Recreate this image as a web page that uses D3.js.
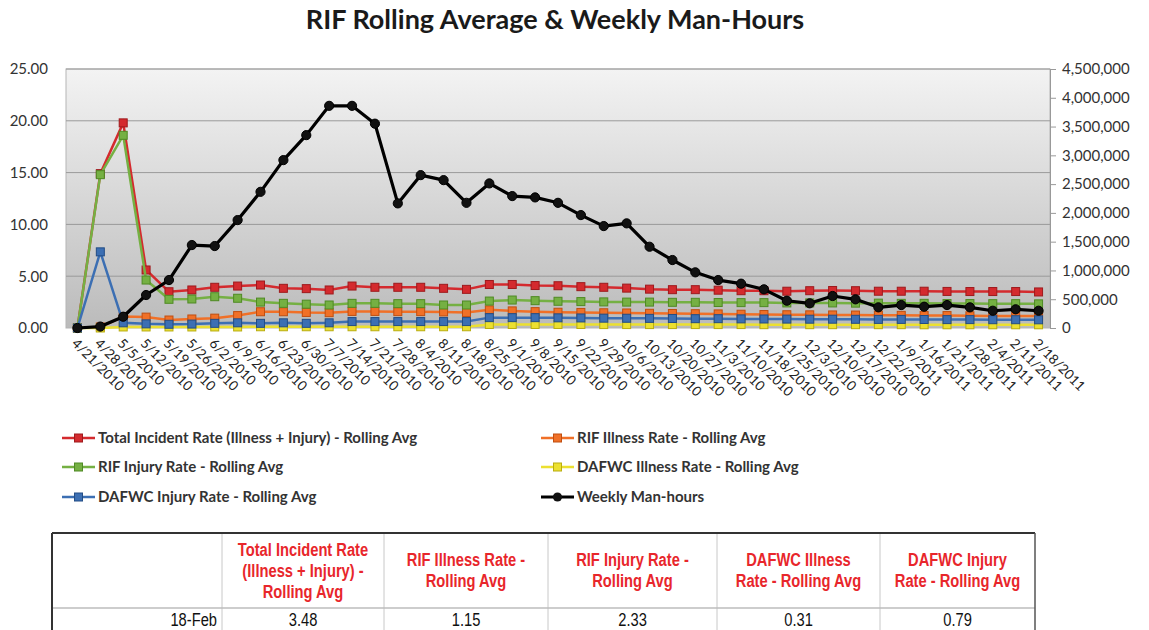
<!DOCTYPE html>
<html>
<head>
<meta charset="utf-8">
<script src="https://cdn.jsdelivr.net/npm/d3@7"></script>
<style>
  body { margin: 0; background: #fff; }
  svg { display: block; }
  .title { font-family: Lato, "Open Sans", sans-serif; font-weight: 700; font-size: 27px; fill: #1a1a1a; }
  .axis text { font-family: Lato, "Open Sans", sans-serif; font-size: 15px; fill: #333; }
  .xaxis text { font-family: Lato, "Open Sans", sans-serif; font-size: 13.5px; fill: #222; }
  .legend text { font-family: Lato, "Open Sans", sans-serif; font-weight: 700; font-size: 15px; fill: #333; }
  .thead { font-family: "Liberation Sans", Arial, sans-serif; font-weight: 700; font-size: 17.5px; fill: #e8262b; }
  .tcell { font-family: "Liberation Sans", Arial, sans-serif; font-size: 17.5px; fill: #111; }
</style>
</head>
<body>
<svg id="chart" width="1149" height="630"></svg>
<script>
const dates = ["4/21/2010","4/28/2010","5/5/2010","5/12/2010","5/19/2010","5/26/2010","6/2/2010","6/9/2010",
  "6/16/2010","6/23/2010","6/30/2010","7/7/2010","7/14/2010","7/21/2010","7/28/2010","8/4/2010","8/11/2010",
  "8/18/2010","8/25/2010","9/1/2010","9/8/2010","9/15/2010","9/22/2010","9/29/2010","10/6/2010","10/13/2010",
  "10/20/2010","10/27/2010","11/3/2010","11/10/2010","11/18/2010","11/25/2010","12/3/2010","12/10/2010",
  "12/17/2010","12/22/2010","1/9/2011","1/16/2011","1/21/2011","1/28/2011","2/4/2011","2/11/2011","2/18/2011"];

const totalRate = [0, 14.9, 19.8, 5.6, 3.5, 3.67, 3.93, 4.05, 4.15, 3.83, 3.8, 3.67, 4.05, 3.93, 3.93, 3.93,
  3.83, 3.73, 4.2, 4.2, 4.1, 4.08, 3.99, 3.93, 3.85, 3.75, 3.7, 3.7, 3.65, 3.6, 3.6, 3.55, 3.6, 3.62, 3.6,
  3.55, 3.55, 3.55, 3.53, 3.52, 3.52, 3.52, 3.48];
const rifIllness = [0, 0.1, 1.1, 1.05, 0.77, 0.87, 0.95, 1.2, 1.57, 1.57, 1.5, 1.48, 1.6, 1.6, 1.58, 1.58,
  1.55, 1.5, 1.75, 1.65, 1.58, 1.52, 1.5, 1.47, 1.45, 1.42, 1.4, 1.38, 1.36, 1.33, 1.3, 1.28, 1.27, 1.26,
  1.25, 1.24, 1.22, 1.2, 1.2, 1.18, 1.17, 1.16, 1.15];
const rifInjury = [0, 14.8, 18.6, 4.63, 2.77, 2.8, 3.02, 2.87, 2.5, 2.38, 2.3, 2.22, 2.38, 2.38, 2.35, 2.35,
  2.22, 2.22, 2.6, 2.7, 2.64, 2.58, 2.55, 2.52, 2.5, 2.5, 2.48, 2.48, 2.46, 2.45, 2.45, 2.42, 2.42, 2.42,
  2.4, 2.4, 2.38, 2.38, 2.36, 2.36, 2.35, 2.35, 2.33];
const dafwcIllness = [0, 0, 0.1, 0.1, 0.1, 0.1, 0.1, 0.1, 0.12, 0.12, 0.12, 0.12, 0.12, 0.12, 0.12, 0.12,
  0.12, 0.12, 0.34, 0.34, 0.34, 0.34, 0.34, 0.33, 0.33, 0.33, 0.33, 0.33, 0.33, 0.33, 0.32, 0.32, 0.32,
  0.32, 0.32, 0.32, 0.32, 0.31, 0.31, 0.31, 0.31, 0.31, 0.31];
const dafwcInjury = [0, 7.35, 0.5, 0.4, 0.36, 0.38, 0.45, 0.5, 0.45, 0.5, 0.45, 0.5, 0.62, 0.62, 0.62, 0.62,
  0.62, 0.62, 1.0, 1.0, 1.0, 0.98, 0.97, 0.95, 0.94, 0.93, 0.92, 0.9, 0.9, 0.88, 0.87, 0.86, 0.85, 0.85,
  0.84, 0.83, 0.83, 0.82, 0.81, 0.81, 0.8, 0.8, 0.79];
const manHours = [0, 25000, 196000, 573000, 833000, 1441000, 1424000, 1875000, 2366000, 2917000, 3351000,
  3860000, 3860000, 3550000, 2165000, 2656000, 2569000, 2175000, 2512000, 2292000, 2269000, 2175000,
  1962000, 1771000, 1818000, 1412000, 1181000, 967000, 833000, 770000, 672000, 474000, 429000, 556000,
  498000, 359000, 399000, 370000, 399000, 359000, 300000, 325000, 300000];

const leftTicks = [0, 5, 10, 15, 20, 25];
const rightTicks = [0, 500000, 1000000, 1500000, 2000000, 2500000, 3000000, 3500000, 4000000, 4500000];

const rateSeries = [
  { name: "Total Incident Rate (Illness + Injury) - Rolling Avg", values: totalRate, color: "#d42a2e", dark: "#9e1a1d" },
  { name: "RIF Illness Rate - Rolling Avg", values: rifIllness, color: "#f07027", dark: "#c04e10" },
  { name: "RIF Injury Rate - Rolling Avg", values: rifInjury, color: "#75b043", dark: "#4f8a24" },
  { name: "DAFWC Illness Rate - Rolling Avg", values: dafwcIllness, color: "#ece030", dark: "#b9ad10" },
  { name: "DAFWC Injury Rate - Rolling Avg", values: dafwcInjury, color: "#3c6fb3", dark: "#234d85" }
];
const hoursName = "Weekly Man-hours";

const tableHeaders = [
  ["Total Incident Rate", "(Illness + Injury) -", "Rolling Avg"],
  ["RIF Illness Rate -", "Rolling Avg"],
  ["RIF Injury Rate -", "Rolling Avg"],
  ["DAFWC Illness", "Rate - Rolling Avg"],
  ["DAFWC Injury", "Rate - Rolling Avg"]
];
const tableRowLabel = "18-Feb";

const svg = d3.select("#chart");

svg.append("text")
  .attr("class", "title")
  .attr("x", 555)
  .attr("y", 29)
  .attr("text-anchor", "middle")
  .text("RIF Rolling Average & Weekly Man-Hours");

const plot = { left: 66, right: 1050, top: 69, bottom: 328 };

const xScale = d3.scaleBand().domain(dates).range([plot.left, plot.right]);
const xc = d => xScale(d) + xScale.bandwidth() / 2;
const yLeft = d3.scaleLinear().domain([0, 25]).range([plot.bottom, plot.top]);
const yRight = d3.scaleLinear().domain([0, 4500000]).range([plot.bottom, plot.top]);

// plot area background
const defs = svg.append("defs");
const grad = defs.append("linearGradient").attr("id", "bg").attr("x1", 0).attr("y1", 0).attr("x2", 0).attr("y2", 1);
grad.append("stop").attr("offset", "0%").attr("stop-color", "#f3f3f3");
grad.append("stop").attr("offset", "100%").attr("stop-color", "#bbbbbb");

svg.append("rect")
  .attr("x", plot.left).attr("y", plot.top)
  .attr("width", plot.right - plot.left).attr("height", plot.bottom - plot.top)
  .attr("fill", "url(#bg)")
  .attr("stroke", "#b5b5b5");

// gridlines
svg.append("g").selectAll("line").data(leftTicks.slice(1)).enter().append("line")
  .attr("x1", plot.left).attr("x2", plot.right)
  .attr("y1", d => yLeft(d)).attr("y2", d => yLeft(d))
  .attr("stroke", "#9a9a9a").attr("stroke-width", 1);

// left axis
const leftAxis = d3.axisLeft(yLeft).tickValues(leftTicks).tickSize(0).tickPadding(18).tickFormat(d3.format(".2f"));
const leftG = svg.append("g").attr("class", "axis").attr("transform", `translate(${plot.left},0)`).call(leftAxis);
leftG.select(".domain").remove();

// right axis
const rightAxis = d3.axisRight(yRight).tickValues(rightTicks).tickSize(6).tickPadding(6).tickFormat(d3.format(","));
const rightG = svg.append("g").attr("class", "axis").attr("transform", `translate(${plot.right},0)`).call(rightAxis);
rightG.select(".domain").attr("stroke", "#999");
rightG.selectAll(".tick line").attr("stroke", "#999");

// x axis
const xAxis = d3.axisBottom(xScale).tickSize(0).tickPadding(0);
const xG = svg.append("g").attr("class", "xaxis").attr("transform", `translate(0,${plot.bottom})`).call(xAxis);
xG.select(".domain").remove();
xG.selectAll("text")
  .attr("y", 0).attr("dy", "0.35em")
  .attr("text-anchor", "start")
  .attr("transform", "translate(-3,13) rotate(45)");

// rate series
const line = vals => d3.line().x((d, i) => xc(dates[i])).y(d => yLeft(d))(vals);
const markerSize = 8;

rateSeries.forEach(s => {
  const g = svg.append("g");
  g.append("path")
    .attr("d", line(s.values))
    .attr("fill", "none")
    .attr("stroke", s.color)
    .attr("stroke-width", 2.5);
  g.selectAll("rect").data(s.values).enter().append("rect")
    .attr("x", (d, i) => xc(dates[i]) - markerSize / 2)
    .attr("y", d => yLeft(d) - markerSize / 2)
    .attr("width", markerSize).attr("height", markerSize)
    .attr("fill", s.color)
    .attr("stroke", s.dark).attr("stroke-width", 1);
});

// man-hours series
const hoursLine = d3.line().x((d, i) => xc(dates[i])).y(d => yRight(d));
svg.append("path")
  .attr("d", hoursLine(manHours))
  .attr("fill", "none")
  .attr("stroke", "#000")
  .attr("stroke-width", 3.2)
  .attr("stroke-linejoin", "round");
svg.append("g").selectAll("circle").data(manHours).enter().append("circle")
  .attr("cx", (d, i) => xc(dates[i]))
  .attr("cy", d => yRight(d))
  .attr("r", 4.6)
  .attr("fill", "#111")
  .attr("stroke", "#000");

// legend
const legendItems = [
  { s: rateSeries[0], x: 62, y: 438 },
  { s: rateSeries[1], x: 541, y: 438 },
  { s: rateSeries[2], x: 62, y: 467 },
  { s: rateSeries[3], x: 541, y: 467 },
  { s: rateSeries[4], x: 62, y: 497 },
  { s: { name: hoursName, color: "#000", dark: "#000" }, x: 541, y: 497, circle: true }
];
const legend = svg.append("g").attr("class", "legend");
legendItems.forEach(item => {
  const g = legend.append("g").attr("transform", `translate(${item.x},${item.y})`);
  g.append("line").attr("x1", 0).attr("x2", 33).attr("y1", 0).attr("y2", 0)
    .attr("stroke", item.s.color).attr("stroke-width", item.circle ? 3.2 : 2.5);
  if (item.circle) {
    g.append("circle").attr("cx", 16.5).attr("cy", 0).attr("r", 4.6).attr("fill", "#111");
  } else {
    g.append("rect").attr("x", 12.5).attr("y", -4).attr("width", 8).attr("height", 8)
      .attr("fill", item.s.color).attr("stroke", item.s.dark);
  }
  g.append("text").attr("x", 36).attr("y", 0).attr("dy", "0.35em").text(item.s.name);
});

// table
const colEdges = [52, 222, 384, 548, 717, 880, 1035];
const tTop = 533, tMid = 608, tBot = 640;
const narrow = 0.84;
const table = svg.append("g");
table.append("rect").attr("x", colEdges[0]).attr("y", tTop)
  .attr("width", colEdges[6] - colEdges[0]).attr("height", tBot - tTop)
  .attr("fill", "#fff").attr("stroke", "none");
table.selectAll("line.col").data(colEdges.slice(1, 6)).enter().append("line")
  .attr("x1", d => d).attr("x2", d => d).attr("y1", tTop).attr("y2", tBot)
  .attr("stroke", "#c8c8c8");
table.append("line").attr("x1", colEdges[0]).attr("x2", colEdges[6]).attr("y1", tMid).attr("y2", tMid)
  .attr("stroke", "#bdbdbd").attr("stroke-width", 1.5);
table.append("line").attr("x1", colEdges[0]).attr("x2", colEdges[6]).attr("y1", tTop).attr("y2", tTop)
  .attr("stroke", "#333").attr("stroke-width", 2);
table.append("line").attr("x1", colEdges[0]).attr("x2", colEdges[0]).attr("y1", tTop).attr("y2", tBot)
  .attr("stroke", "#333").attr("stroke-width", 2);
table.append("line").attr("x1", colEdges[6]).attr("x2", colEdges[6]).attr("y1", tTop).attr("y2", tBot)
  .attr("stroke", "#555").attr("stroke-width", 1.5);

tableHeaders.forEach((lines, i) => {
  const cx = (colEdges[i + 1] + colEdges[i + 2]) / 2;
  const startY = (tTop + tMid) / 2 - (lines.length - 1) * 21 / 2;
  lines.forEach((t, j) => {
    table.append("text").attr("class", "thead")
      .attr("transform", `translate(${cx},${startY + j * 21}) scale(${narrow},1)`)
      .attr("dy", "0.35em")
      .attr("text-anchor", "middle").text(t);
  });
});

const lastValues = rateSeries.map(s => s.values[s.values.length - 1]);
// table column order: total, RIF illness, RIF injury, DAFWC illness, DAFWC injury
table.append("text").attr("class", "tcell")
  .attr("transform", `translate(${colEdges[1] - 5},620) scale(${narrow},1)`)
  .attr("dy", "0.35em")
  .attr("text-anchor", "end").text(tableRowLabel);
lastValues.forEach((v, i) => {
  table.append("text").attr("class", "tcell")
    .attr("transform", `translate(${(colEdges[i + 1] + colEdges[i + 2]) / 2},620) scale(${narrow},1)`)
    .attr("dy", "0.35em")
    .attr("text-anchor", "middle").text(v.toFixed(2));
});
</script>
</body>
</html>
